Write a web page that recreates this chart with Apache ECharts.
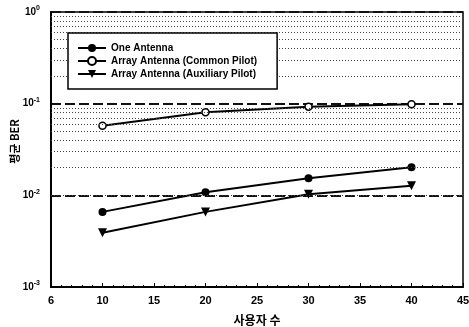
<!DOCTYPE html>
<html>
<head>
<meta charset="utf-8">
<script src="https://cdn.jsdelivr.net/npm/echarts@6/dist/echarts.min.js"></script>
<style>
  html, body { margin: 0; padding: 0; background: #fff; }
  #main { width: 469px; height: 327px; }
</style>
</head>
<body>
<div id="main"></div>
<script>
// data
var users = [10, 20, 30, 40];
var oneAntenna = [0.0066, 0.0108, 0.0154, 0.0203];
var commonPilot = [0.0575, 0.0806, 0.0927, 0.0985];
var auxPilot = [0.0039, 0.0066, 0.0103, 0.0127];
var seriesNames = ['One Antenna', 'Array Antenna (Common Pilot)', 'Array Antenna (Auxiliary Pilot)'];
var xTickLabels = ['6', '10', '15', '20', '25', '30', '35', '40', '45'];
var yExponents = ['0', '-1', '-2', '-3'];

var FONT = '"Liberation Sans", Arial, sans-serif';

// dotted minor grid lines at 2..9 x 10^k
var minorLines = [];
for (var k = -3; k < 0; k++) {
	for (var m = 2; m <= 9; m++) {
		minorLines.push({ yAxis: m * Math.pow(10, k) });
	}
}

function pairs(ys) {
	var out = [];
	for (var i = 0; i < users.length; i++) {
		out.push([users[i], ys[i]]);
	}
	return out;
}

var chart = echarts.init(document.getElementById('main'), null, { renderer: 'canvas' });

var option = {
	animation: false,
	backgroundColor: '#fff',
	textStyle: { fontFamily: FONT },
	grid: {
		left: 51,
		right: 6,
		top: 12,
		bottom: 40,
		containLabel: false,
		outerBoundsMode: 'none',
		show: true,
		borderColor: '#000',
		borderWidth: 1.5,
		backgroundColor: 'transparent'
	},
	legend: {
		orient: 'vertical',
		left: 68,
		top: 33,
		z: 10,
		padding: [10, 20, 10, 9],
		itemGap: 3,
		itemWidth: 28,
		itemHeight: 10,
		backgroundColor: '#fff',
		borderColor: '#000',
		borderWidth: 1.5,
		textStyle: { fontFamily: FONT, fontSize: 10, fontWeight: 'bold', color: '#000' },
		data: seriesNames
	},
	xAxis: {
		type: 'value',
		min: 5,
		max: 45,
		interval: 5,
		name: '사용자 수',
		nameLocation: 'middle',
		nameGap: 27,
		nameTextStyle: { fontFamily: '"Noto Sans CJK KR", sans-serif', fontSize: 12, fontWeight: 'bold', color: '#000' },
		axisLine: { show: true, lineStyle: { color: '#000', width: 2 } },
		axisTick: { show: true, inside: true, length: 4, lineStyle: { color: '#000' } },
		minorTick: { show: true, splitNumber: 5, length: 2, lineStyle: { color: '#000' } },
		axisLabel: {
			fontFamily: FONT,
			fontSize: 11,
			fontWeight: 'bold',
			color: '#000',
			margin: 8,
			formatter: function(v) {
				var i = Math.round((v - 5) / 5);
				return xTickLabels[i] || '';
			}
		},
		splitLine: { show: false }
	},
	yAxis: {
		type: 'log',
		logBase: 10,
		min: 0.001,
		max: 1,
		name: '평균 BER',
		nameLocation: 'middle',
		nameRotate: 90,
		nameGap: 31,
		nameMoveOverlap: false,
		nameTextStyle: { fontFamily: '"Noto Sans CJK KR", sans-serif', fontSize: 11, fontWeight: 'bold', color: '#000', padding: [0, 0, 0, 16] },
		axisLine: { show: true, lineStyle: { color: '#000', width: 2 } },
		axisTick: { show: false },
		axisLabel: {
			margin: 11,
			color: '#000',
			formatter: function(v) {
				var e = Math.round(Math.log(v) / Math.LN10);
				return '{b|10}{s|' + yExponents[-e] + '}';
			},
			rich: {
				b: { fontFamily: FONT, fontSize: 10, fontWeight: 'bold', color: '#000' },
				s: { fontFamily: FONT, fontSize: 7, fontWeight: 'bold', color: '#000', padding: [0, 0, 7, 0] }
			}
		},
		splitLine: { show: true, lineStyle: { color: '#111', width: 2, type: [10, 4] } }
	},
	series: [
		{
			name: 'grid',
			type: 'line',
			data: [],
			silent: true,
			markLine: {
				silent: true,
				symbol: 'none',
				label: { show: false },
				lineStyle: { color: '#444', width: 1, type: [1, 2] },
				data: minorLines
			}
		},
		{
			name: seriesNames[0],
			type: 'line',
			data: pairs(oneAntenna),
			symbol: 'circle',
			symbolSize: 8,
			lineStyle: { color: '#000', width: 2 },
			itemStyle: { color: '#000' }
		},
		{
			name: seriesNames[1],
			type: 'line',
			data: pairs(commonPilot),
			symbol: 'circle',
			symbolSize: 7,
			lineStyle: { color: '#000', width: 2 },
			itemStyle: { color: '#fff', borderColor: '#000', borderWidth: 1.5 }
		},
		{
			name: seriesNames[2],
			type: 'line',
			data: pairs(auxPilot),
			symbol: 'triangle',
			symbolRotate: 180,
			symbolSize: 9,
			lineStyle: { color: '#000', width: 2 },
			itemStyle: { color: '#000' }
		}
	]
};

chart.setOption(option);
</script>
</body>
</html>
